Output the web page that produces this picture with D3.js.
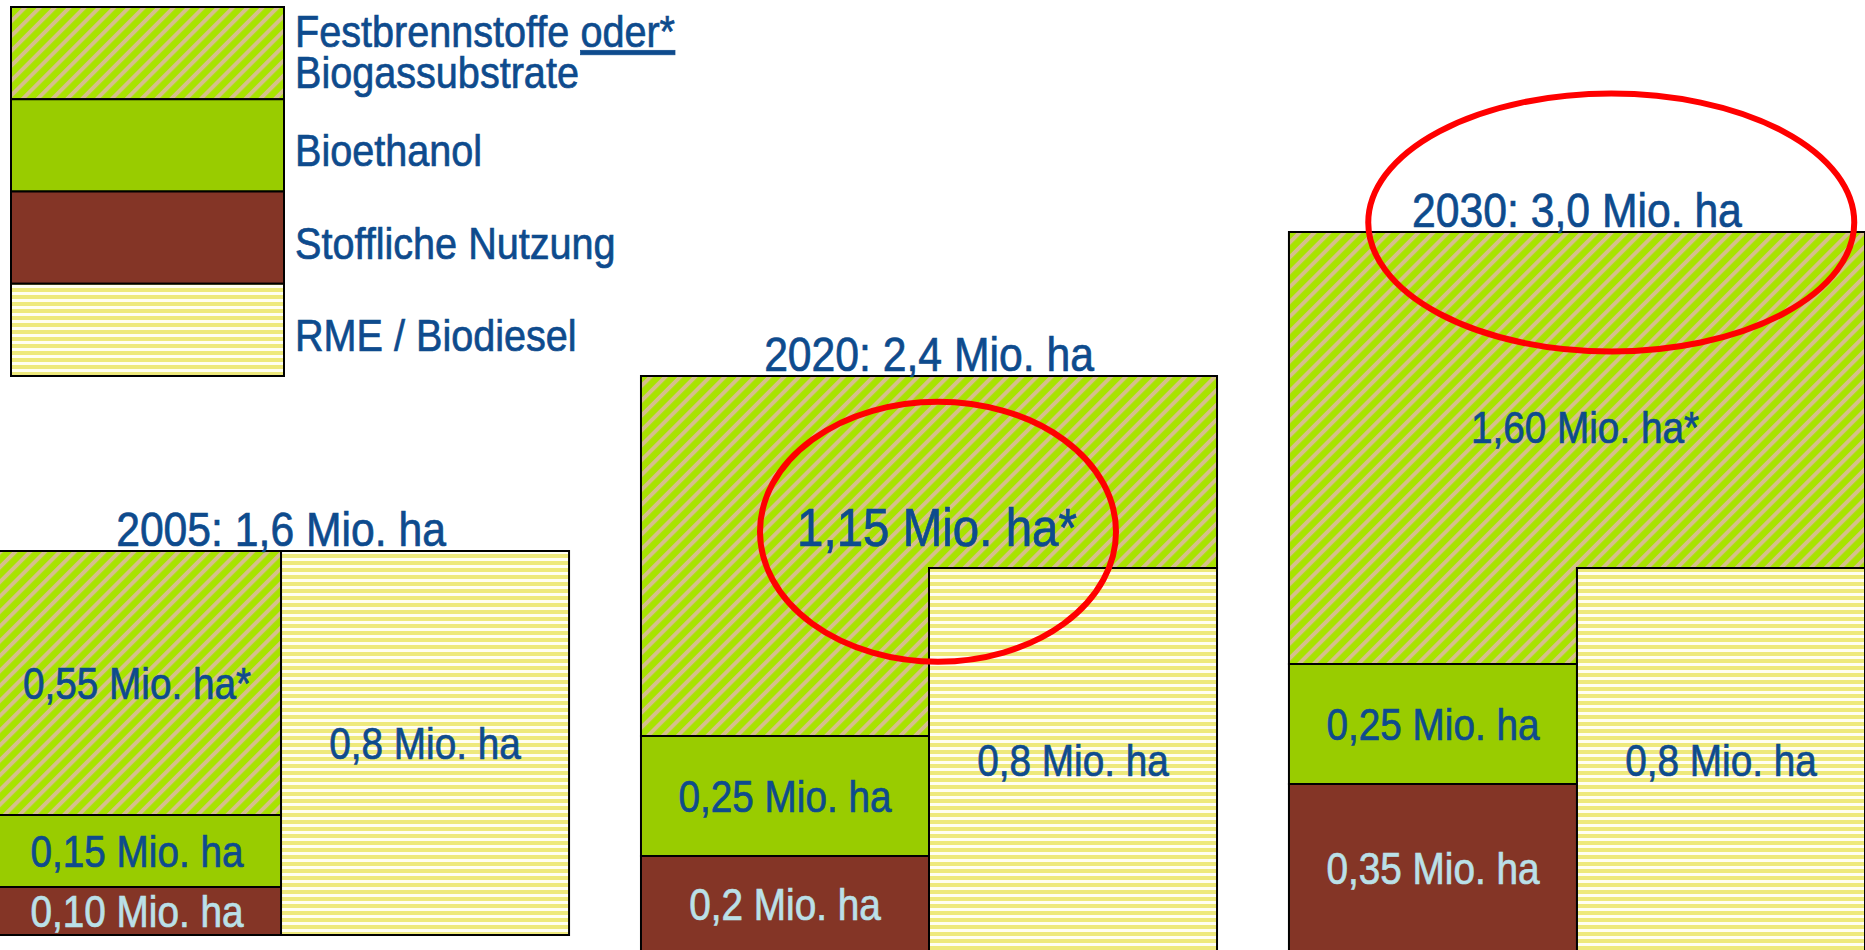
<!DOCTYPE html>
<html>
<head>
<meta charset="utf-8">
<script src="https://cdn.jsdelivr.net/npm/d3@7"></script>
<style>
  html, body { margin: 0; padding: 0; background: #fff; overflow: hidden; }
  svg { display: block; }
  text { font-family: "Liberation Sans", Arial, sans-serif; stroke-width: 0.7px; paint-order: stroke; }
</style>
</head>
<body>
<svg width="1865" height="950"></svg>
<script>
// Flächenbedarf nachwachsende Rohstoffe (Mio. ha)
let years = ["2005", "2020", "2030"];
let totals = [1.6, 2.4, 3.0];
let totalLabels = ["1,6", "2,4", "3,0"];

let festValues = [0.55, 1.15, 1.6];
let bioValues = [0.15, 0.25, 0.25];
let stoffValues = [0.1, 0.2, 0.35];
let rmeValues = [0.8, 0.8, 0.8];

let festLabels = ["0,55", "1,15", "1,60"];
let bioLabels = ["0,15", "0,25", "0,25"];
let stoffLabels = ["0,10", "0,2", "0,35"];
let rmeLabels = ["0,8", "0,8", "0,8"];

let legendLabels = [
  ["Festbrennstoffe ", "oder*", "Biogassubstrate"],
  ["Bioethanol"],
  ["Stoffliche Nutzung"],
  ["RME / Biodiesel"]
];

// styles / layout
let blue = "#0e4b8d";
let light = "#bae0e8";
let brown = "#843526";
let green = "#99cc00";
let baseY = { "2005": 935, "2020": 952, "2030": 952 };
let sx = 0.88; // narrow font look
let labelSize = 44;
let bigSize = 54;

let svg = d3.select("svg");
let defs = svg.append("defs");

let hatch = defs
  .append("pattern")
  .attr("id", "hatch")
  .attr("patternUnits", "userSpaceOnUse")
  .attr("width", 10.5)
  .attr("height", 10.5)
  .attr("patternTransform", "rotate(45)");
hatch.append("rect").attr("width", 10.5).attr("height", 10.5).attr("fill", "#a8e300");
hatch.append("rect").attr("width", 4).attr("height", 10.5).attr("fill", "#d6bf8c");

let stripes = defs
  .append("pattern")
  .attr("id", "stripes")
  .attr("patternUnits", "userSpaceOnUse")
  .attr("width", 10)
  .attr("height", 7);
stripes.append("rect").attr("width", 10).attr("height", 7).attr("fill", "#fffef2");
stripes.append("rect").attr("y", 1).attr("width", 10).attr("height", 4).attr("fill", "#eee97c");

// squeeze text horizontally around its x anchor
function narrow(sel) {
  sel.each(function () {
    let t = d3.select(this);
    let x0 = +t.attr("x");
    t.attr("x", 0).attr("transform", `translate(${x0},0) scale(${sx},1)`);
    t.attr("stroke", t.attr("fill"));
    t.selectAll("tspan[x]").attr("x", 0);
  });
}

// groups side by side, two columns each
let x = d3.scaleBand().domain(years).range([-7, 1865]).paddingInner(0.111).paddingOuter(0);
let col = d3.scaleBand().domain(["left", "right"]).range([0, x.bandwidth()]);
// px per Mio. ha in one column
let h = d3.scaleLinear().domain([0, 1]).range([0, 480]);

let groups = years.map((year, i) => {
  let x0 = x(year);
  let cw = col.bandwidth();
  let bottom = baseY[year];
  let top = bottom - h(totals[i]) / 2;
  let stoffTop = bottom - h(stoffValues[i]);
  let bioTop = stoffTop - h(bioValues[i]);
  let rmeTop = bottom - h(rmeValues[i]);
  return { year, i, x0, cw, bottom, top, stoffTop, bioTop, rmeTop };
});

let g = svg.selectAll("g.group").data(groups).enter().append("g").attr("class", "group");

// Festbrennstoffe / Biogas: L-shaped area on top
g.append("path")
  .attr("d", (d) => {
    let xl = d.x0 + col("left");
    let xm = d.x0 + col("right");
    let xr = xm + d.cw;
    return `M${xl},${d.top}H${xr}V${d.rmeTop}H${xm}V${d.bioTop}H${xl}Z`;
  })
  .attr("fill", "url(#hatch)")
  .attr("stroke", "#000")
  .attr("stroke-width", 2);

g.append("rect")
  .attr("x", (d) => d.x0 + col("left"))
  .attr("y", (d) => d.bioTop)
  .attr("width", (d) => d.cw)
  .attr("height", (d) => d.stoffTop - d.bioTop)
  .attr("fill", green)
  .attr("stroke", "#000")
  .attr("stroke-width", 2);

g.append("rect")
  .attr("x", (d) => d.x0 + col("left"))
  .attr("y", (d) => d.stoffTop)
  .attr("width", (d) => d.cw)
  .attr("height", (d) => d.bottom - d.stoffTop)
  .attr("fill", brown)
  .attr("stroke", "#000")
  .attr("stroke-width", 2);

g.append("rect")
  .attr("x", (d) => d.x0 + col("right"))
  .attr("y", (d) => d.rmeTop)
  .attr("width", (d) => d.cw)
  .attr("height", (d) => d.bottom - d.rmeTop)
  .attr("fill", "url(#stripes)")
  .attr("stroke", "#000")
  .attr("stroke-width", 2);

// titles
g.append("text")
  .attr("class", "title")
  .attr("x", (d) => d.x0 + x.bandwidth() / 2)
  .attr("y", (d) => d.top - 5)
  .attr("text-anchor", "middle")
  .attr("font-size", 48.5)
  .attr("fill", blue)
  .text((d) => `${d.year}: ${totalLabels[d.i]} Mio. ha`);

let cap = 0.36;

// segment labels
g.append("text")
  .attr("class", "fest-label")
  .attr("x", (d) => (d.rmeTop > d.top + 1 ? d.x0 + x.bandwidth() / 2 + 8 : d.x0 + col("left") + d.cw / 2))
  .attr("y", (d) => {
    // centroid of the L-shape
    let a1 = (d.rmeTop - d.top) * 2 * d.cw;
    let a2 = (d.bioTop - d.rmeTop) * d.cw;
    let cy = (a1 * (d.top + d.rmeTop) / 2 + a2 * (d.rmeTop + d.bioTop) / 2) / (a1 + a2);
    let fs = d.year == "2020" ? bigSize : labelSize;
    return cy + fs * cap;
  })
  .attr("text-anchor", "middle")
  .attr("font-size", (d) => (d.year == "2020" ? bigSize : labelSize))
  .attr("fill", blue)
  .text((d) => `${festLabels[d.i]} Mio. ha*`);

g.append("text")
  .attr("x", (d) => d.x0 + col("left") + d.cw / 2)
  .attr("y", (d) => (d.bioTop + d.stoffTop) / 2 + labelSize * cap)
  .attr("text-anchor", "middle")
  .attr("font-size", labelSize)
  .attr("fill", blue)
  .text((d) => `${bioLabels[d.i]} Mio. ha`);

g.append("text")
  .attr("x", (d) => d.x0 + col("left") + d.cw / 2)
  .attr("y", (d) => (d.stoffTop + d.bottom) / 2 + labelSize * cap)
  .attr("text-anchor", "middle")
  .attr("font-size", labelSize)
  .attr("fill", light)
  .text((d) => `${stoffLabels[d.i]} Mio. ha`);

g.append("text")
  .attr("x", (d) => d.x0 + col("right") + d.cw / 2)
  .attr("y", (d) => (d.rmeTop + d.bottom) / 2 + labelSize * cap)
  .attr("text-anchor", "middle")
  .attr("font-size", labelSize)
  .attr("fill", blue)
  .text((d) => `${rmeLabels[d.i]} Mio. ha`);

narrow(g.selectAll("text"));

// red circles around the highlighted numbers
let circled = [
  { year: "2020", sel: "text.fest-label", rx: 178, ry: 130, dx: 1, dy: 4 },
  { year: "2030", sel: "text.title", rx: 243, ry: 129, dx: 34, dy: 12 }
];
circled.forEach((c) => {
  let node = g.filter((d) => d.year == c.year).select(c.sel).node();
  let b = node.getBoundingClientRect();
  svg
    .append("ellipse")
    .attr("cx", b.x + b.width / 2 + c.dx)
    .attr("cy", b.y + b.height / 2 + c.dy)
    .attr("rx", c.rx)
    .attr("ry", c.ry)
    .attr("fill", "none")
    .attr("stroke", "#ff0000")
    .attr("stroke-width", 6);
});

// legend
let fills = ["url(#hatch)", green, brown, "url(#stripes)"];
let ly = d3.scaleBand().domain(d3.range(4)).range([7, 376]);
let legend = svg.append("g").attr("class", "legend");

legend
  .selectAll("rect")
  .data(fills)
  .enter()
  .append("rect")
  .attr("x", 11)
  .attr("y", (d, i) => ly(i))
  .attr("width", 273)
  .attr("height", ly.bandwidth())
  .attr("fill", (d) => d)
  .attr("stroke", "#000")
  .attr("stroke-width", 2);

let lt = legend
  .selectAll("text")
  .data(legendLabels)
  .enter()
  .append("text")
  .attr("x", 295)
  .attr("y", (d, i) => ly(i) + ly.bandwidth() / 2 + 21)
  .attr("font-size", 45)
  .attr("fill", blue);

lt.each(function (d, i) {
  let t = d3.select(this);
  if (d.length == 1) {
    t.text(d[0]);
    return;
  }
  let y0 = ly(i) + ly.bandwidth() / 2 - 6;
  t.attr("y", y0);
  t.append("tspan").text(d[0]);
  t.append("tspan").attr("text-decoration", "underline").text(d[1]);
  t.append("tspan").attr("x", 295).attr("y", y0 + 41).text(d[2]);
});

narrow(lt);
</script>
</body>
</html>
